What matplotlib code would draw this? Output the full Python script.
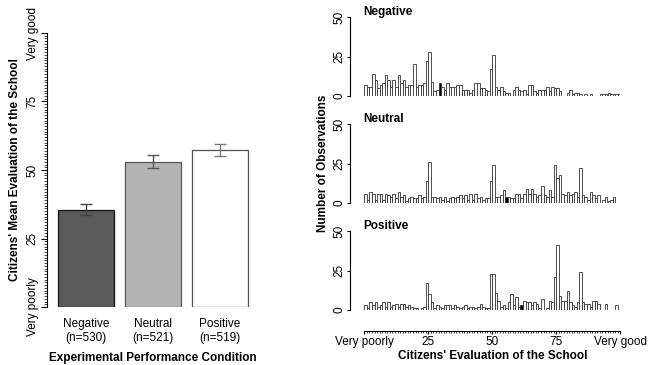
import numpy as np
import matplotlib
matplotlib.use("Agg")
import matplotlib.pyplot as plt
from matplotlib.ticker import MultipleLocator

plt.rcParams['font.family'] = ['Liberation Sans', 'DejaVu Sans']
plt.rcParams['font.size'] = 8.5

# left panel: mean evaluation by condition
conditions = ["Negative\n(n=530)", "Neutral\n(n=521)", "Positive\n(n=519)"]
means = [35.5, 53.0, 57.2]
ci_low = [33.4, 50.6, 55.0]
ci_high = [37.6, 55.5, 59.4]
bar_colors = ["#5a5a5a", "#b4b4b4", "#ffffff"]
err_colors = ["#444444", "#555555", "#7a7a7a"]

# right panels: histogram counts for evaluation values 0..99
neg_counts = [7, 6, 6, 14, 10, 5, 7, 8, 13, 10, 6, 10, 6, 13, 8, 10, 6, 7, 7, 20,
              6, 7, 7, 8, 22, 28, 9, 3, 4, 8, 6, 4, 8, 6, 6, 6, 7, 7, 4, 4,
              4, 2, 4, 8, 8, 5, 5, 4, 3, 17, 26, 6, 4, 6, 3, 2, 2, 0, 4, 6,
              4, 3, 4, 1, 7, 7, 3, 2, 4, 4, 4, 6, 3, 6, 5, 5, 3, 0, 0, 2,
              4, 1, 2, 2, 1, 0, 1, 0, 1, 0, 0, 0, 1, 1, 1, 2, 1, 1, 1, 1]
neu_counts = [6, 2, 7, 6, 2, 6, 6, 2, 6, 5, 4, 6, 3, 7, 4, 5, 1, 3, 4, 3,
              3, 5, 3, 4, 14, 26, 4, 4, 3, 4, 2, 4, 1, 3, 4, 3, 4, 5, 3, 5,
              2, 6, 2, 6, 3, 4, 2, 3, 3, 14, 24, 4, 4, 5, 8, 4, 4, 3, 3, 6,
              6, 3, 6, 9, 6, 9, 6, 4, 5, 11, 5, 4, 8, 4, 24, 16, 18, 6, 5, 7,
              5, 6, 7, 4, 22, 5, 4, 2, 7, 5, 3, 5, 0, 2, 4, 1, 2, 4, 0, 0]
pos_counts = [3, 1, 5, 3, 5, 2, 3, 5, 2, 5, 2, 3, 4, 2, 4, 4, 2, 3, 2, 1,
              1, 0, 1, 2, 17, 10, 5, 1, 3, 2, 1, 3, 3, 3, 1, 3, 2, 1, 2, 3,
              1, 2, 2, 1, 2, 4, 2, 1, 1, 23, 23, 11, 6, 2, 3, 1, 5, 10, 3, 8,
              2, 3, 6, 5, 5, 3, 5, 4, 1, 7, 0, 1, 6, 5, 21, 41, 9, 6, 6, 12,
              5, 3, 2, 5, 24, 5, 4, 4, 2, 6, 6, 4, 0, 0, 4, 0, 0, 0, 3, 0]
panel_names = ["Negative", "Neutral", "Positive"]
panel_counts = [neg_counts, neu_counts, pos_counts]
marked_bin = [29, 55, 61]

scale_labels = ["Very poorly", "25", "50", "75", "Very good"]
scale_ticks = [0, 25, 50, 75, 100]

W, H = 650, 365
fig = plt.figure(figsize=(6.5, 3.65), dpi=100)

def box(x0, y0, x1, y1):
    # pixel box (top-left origin) -> figure fraction
    return [x0 / W, 1 - y1 / H, (x1 - x0) / W, (y1 - y0) / H]

# ---- bar chart
ax = fig.add_axes(box(47, 33, 259, 307))
xpos = [0.7, 1.9, 3.1]
ax.bar(xpos, means, width=1.0, color=bar_colors, edgecolor=["#111111", "#555555", "#555555"], linewidth=0.9)
for i in range(3):
    ax.errorbar(xpos[i], means[i],
                yerr=[[means[i] - ci_low[i]], [ci_high[i] - means[i]]],
                fmt="none", ecolor=err_colors[i], elinewidth=1, capsize=4, capthick=1)
ax.set_xlim(0, 3.8)
ax.set_ylim(0, 100)
for s in ["top", "right", "bottom"]:
    ax.spines[s].set_visible(False)
ax.spines["left"].set_linewidth(0.8)
ax.set_yticks(scale_ticks)
ax.set_yticklabels(scale_labels, rotation=90, va="center")
ax.yaxis.set_minor_locator(MultipleLocator(1))
ax.tick_params(axis="y", which="major", length=4, width=0.8, pad=2)
ax.tick_params(axis="y", which="minor", length=2, width=0.5)
ax.set_xticks(xpos)
ax.set_xticklabels(conditions)
ax.tick_params(axis="x", length=0, pad=8)
ax.set_ylabel("Citizens' Mean Evaluation of the School", fontweight="bold", labelpad=4)
ax.set_xlabel("Experimental Performance Condition", fontweight="bold", labelpad=6)

# ---- histograms
bins = np.arange(100)
for k in range(3):
    yb = 96 + 107 * k
    hx = fig.add_axes(box(364.3, yb - 79, 620.3, yb))
    colors = ["black" if b == marked_bin[k] else "white" for b in bins]
    hx.bar(bins, panel_counts[k], width=1.0, align="edge", color=colors,
           edgecolor="#333333", linewidth=0.6)
    hx.set_xlim(0, 100)
    hx.set_ylim(0, 50)
    for s in ["top", "right"]:
        hx.spines[s].set_visible(False)
    hx.spines["left"].set_position(("outward", 10))
    hx.spines["left"].set_bounds(0, 50)
    hx.spines["left"].set_linewidth(0.8)
    hx.set_yticks([0, 25, 50])
    hx.set_yticklabels(["0", "25", "50"], rotation=90, va="center")
    hx.tick_params(axis="y", length=2.5, width=0.8, pad=1)
    hx.text(-0.5, 53, panel_names[k], fontweight="bold", ha="left", va="center")
    if k < 2:
        hx.spines["bottom"].set_visible(False)
        hx.set_xticks([])
    else:
        hx.spines["bottom"].set_position(("outward", 15))
        hx.spines["bottom"].set_bounds(0, 100)
        hx.spines["bottom"].set_linewidth(0.8)
        hx.set_xticks(scale_ticks)
        hx.set_xticklabels(scale_labels)
        hx.xaxis.set_minor_locator(MultipleLocator(1))
        hx.tick_params(axis="x", which="major", length=2.5, width=0.8, pad=1)
        hx.tick_params(axis="x", which="minor", length=1.5, width=0.5)
        hx.set_xlabel("Citizens' Evaluation of the School", fontweight="bold", labelpad=2)
    if k == 1:
        hx.set_ylabel("Number of Observations", fontweight="bold", labelpad=3)

fig.savefig("out.png", dpi=100)
